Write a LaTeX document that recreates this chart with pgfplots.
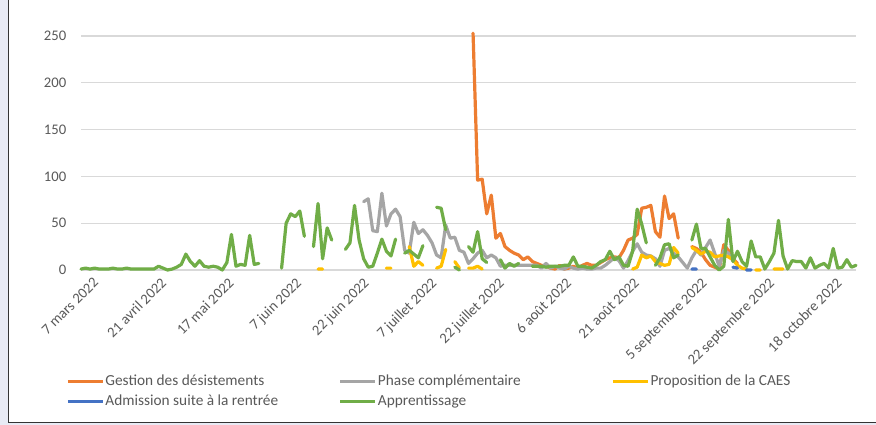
\documentclass[border=0pt]{standalone}
\usepackage{pgfplots}
\pgfplotsset{compat=1.18}
\usepackage{fontspec}
\setmainfont{Carlito}
\definecolor{cOr}{HTML}{ED7D31}
\definecolor{cGr}{HTML}{A5A5A5}
\definecolor{cYe}{HTML}{FFC000}
\definecolor{cBl}{HTML}{4472C4}
\definecolor{cGn}{HTML}{70AD47}
\definecolor{txt}{HTML}{595959}
\definecolor{gridc}{HTML}{D9D9D9}
\definecolor{lav}{HTML}{E8EAF4}
\begin{document}
\begin{tikzpicture}
\useasboundingbox (0,0) rectangle (657pt,318.75pt);
\fill[lav] (0,0) rectangle (657pt,318.75pt);
\fill[white] (6pt,1.5pt) rectangle (660pt,320pt);
\draw[black!80, line width=0.75pt] (6pt,320pt) -- (6pt,1.5pt) -- (660pt,1.5pt);
\begin{axis}[
  at={(60.75pt,116.25pt)}, anchor=south west,
  scale only axis, width=581.25pt, height=175.5pt,
  xmin=0, xmax=170, ymin=0, ymax=250,
  clip=false,
  axis line style={draw=none},
  major tick length=0pt,
  ymajorgrids, grid style={gridc, line width=1pt},
  ytick={0,50,...,250},
  xtick={0,14.82,29.64,44.46,59.28,74.1,88.92,103.74,118.56,133.38,148.2,163.02},
  xticklabels={7 mars 2022, 21 avril 2022, 17 mai 2022, 7 juin 2022, 22 juin 2022, 7 juillet 2022, 22 juillet 2022, 6 août 2022, 21 août 2022, 5 septembre 2022, 22 septembre 2022, 18 octobre 2022},
  /pgf/number format/assume math mode=true,
  tick label style={font=\fontsize{11}{13}\selectfont, color=txt},
  yticklabel style={xshift=-7.5pt},
  xticklabel style={rotate=45, anchor=north east, inner sep=1pt, xshift=3.5pt, yshift=-8.5pt},
  unbounded coords=jump,
  every axis plot/.append style={line width=2.4pt, line join=round, line cap=round},
  legend columns=3,
  legend cell align=left,
  legend style={at={(-0.0194,-0.4426)}, anchor=north west, draw=none, fill=none, inner sep=0pt, font=\fontsize{11.5}{13}\selectfont, text=txt, column sep=0pt, row sep=3.5pt, nodes={inner sep=1pt}},
  legend image code/.code={\draw[#1, line cap=butt] (0pt,0pt) -- (26pt,0pt);},
]
\addplot[cOr] coordinates {(86,253)(87,96)(88,97)(89,60)(90,80)(91,34)(92,39)(93,25)(94,21)(95,18)(96,16)(97,11)(98,14)(99,9)(100,7)(101,5)(102,4)(103,2)(104,1)(105,5)(106,1)(107,2)(108,4)(109,2)(110,5)(111,7)(112,5)(113,5)(114,8)(115,11)(116,13)(117,14)(118,13)(119,21)(120,32)(121,34)(122,38)(123,66)(124,67)(125,69)(126,41)(127,35)(128,79)(129,55)(130,60)(131,34)(132,nan)(134,25)(135,23)(136,19)(137,11)(138,5)(139,3)(140,1)(141,27)(142,21)(143,12)(144,7)};
\addlegendentry{\makebox[174pt][l]{Gestion des désistements}}
\addplot[cGr] coordinates {(62,73)(63,76)(64,42)(65,41)(66,82)(67,47)(68,60)(69,65)(70,57)(71,21)(72,18)(73,51)(74,39)(75,43)(76,37)(77,29)(78,16)(79,13)(80,48)(81,34)(82,35)(83,21)(84,19)(85,7)(86,12)(87,18)(88,21)(89,13)(90,16)(91,13)(92,4)(93,5)(94,5)(95,5)(96,5)(97,5)(98,5)(99,5)(100,5)(101,2)(102,7)(103,2)(104,4)(105,2)(106,1)(107,4)(108,2)(109,1)(110,2)(111,1)(112,1)(113,2)(114,2)(115,5)(116,9)(117,13)(118,10)(119,2)(120,10)(121,20)(122,28)(123,19)(124,16)(125,15)(126,12)(127,4)(128,21)(129,23)(130,18)(131,14)(132,8)(133,2)(134,13)(135,21)(136,16)(137,24)(138,32)(139,18)(140,4)(141,21)(142,18)(143,10)};
\addlegendentry{\makebox[174pt][l]{Phase complémentaire}}
\addplot[cYe] coordinates {(52,1)(53,1)(54,nan)(67,2)(68,2)(69,nan)(72,25)(73,4)(74,9)(75,5)(76,nan)(78,2)(79,4)(80,22)(81,nan)(82,9)(83,2)(84,nan)(85,2)(86,2)(87,4)(88,1)(89,nan)(121,1)(122,3)(123,16)(124,13)(125,15)(126,9)(127,7)(128,5)(129,6)(130,24)(131,18)(132,nan)(134,24)(135,21)(136,17)(137,20)(138,19)(139,14)(140,15)(141,16)(142,14)(143,11)(144,5)(145,2)(146,1)(147,nan)(148,0)(149,0)(150,nan)(152,1)(153,1)(154,1)};
\addlegendentry{Proposition de la CAES}
\addplot[cBl] coordinates {(134,1)(135,1)(136,nan)(143,3)(144,2)(145,nan)(146,0)(147,0)};
\addlegendentry{Admission suite à la rentrée}
\addplot[cGn] coordinates {(0,1)(1,2)(2,1)(3,2)(4,1)(5,1)(6,1)(7,2)(8,1)(9,1)(10,2)(11,1)(12,1)(13,1)(14,1)(15,1)(16,1)(17,4)(18,2)(19,0)(20,1)(21,3)(22,6)(23,17)(24,9)(25,4)(26,10)(27,4)(28,3)(29,4)(30,3)(31,0)(32,8)(33,38)(34,4)(35,6)(36,5)(37,37)(38,6)(39,7)(40,nan)(44,2)(45,50)(46,60)(47,57)(48,63)(49,36)(50,nan)(51,25)(52,71)(53,12)(54,45)(55,32)(56,nan)(58,22)(59,29)(60,69)(61,32)(62,12)(63,3)(64,4)(65,18)(66,33)(67,20)(68,15)(69,33)(70,nan)(71,18)(72,21)(73,17)(74,13)(75,26)(76,nan)(78,67)(79,66)(80,43)(81,nan)(82,3)(83,0)(84,nan)(85,25)(86,19)(87,41)(88,12)(89,8)(90,nan)(92,11)(93,2)(94,7)(95,4)(96,7)(97,nan)(99,4)(100,4)(101,4)(102,3)(103,4)(104,4)(105,4)(106,5)(107,5)(108,14)(109,4)(110,4)(111,3)(112,2)(113,5)(114,9)(115,11)(116,20)(117,11)(118,14)(119,5)(120,4)(121,20)(122,65)(123,49)(124,29)(125,nan)(126,5)(127,13)(128,27)(129,28)(130,13)(131,16)(132,nan)(134,32)(135,49)(136,23)(137,23)(138,14)(139,5)(140,0)(141,4)(142,54)(143,9)(144,20)(145,9)(146,4)(147,31)(148,14)(149,14)(150,1)(151,9)(152,18)(153,53)(154,15)(155,1)(156,10)(157,9)(158,9)(159,2)(160,13)(161,2)(162,5)(163,7)(164,2)(165,23)(166,2)(167,3)(168,11)(169,3)(170,5)};
\addlegendentry{Apprentissage}
\end{axis}
\end{tikzpicture}
\end{document}
